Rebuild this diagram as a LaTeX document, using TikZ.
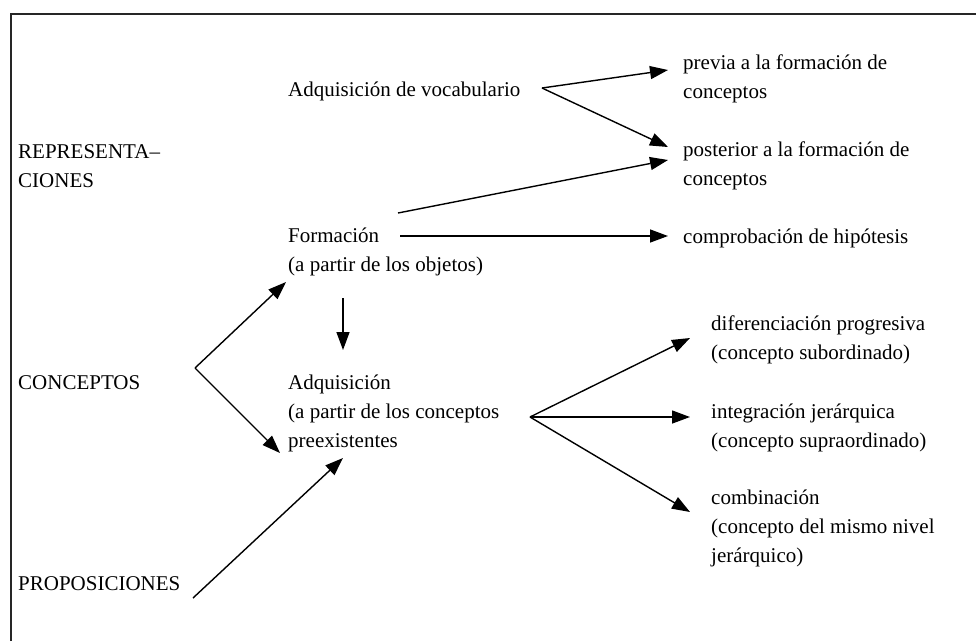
\documentclass[tikz,border=0pt]{standalone}
\usepackage{fontspec}
\setmainfont{Liberation Serif}
\usetikzlibrary{arrows.meta}
\begin{document}
\begin{tikzpicture}[x=1pt,y=-1pt,
  lbl/.style={anchor=base west, inner sep=0pt, align=left, font=\fontsize{21}{29}\selectfont},
  arr/.style={line width=1.4pt, -{Triangle[length=18pt,width=13pt]}},
  frame/.style={line width=1.6pt, black!85}
]
\useasboundingbox (0,0) rectangle (976,641);
\fill[white] (0,0) rectangle (976,641);
\draw[frame] (11,641) -- (11,14) -- (976,14);

% left column (base = baseline of last line)
\node[lbl] (rep) at (18,187) {REPRESENTA–\\CIONES};
\node[lbl] (con) at (18,389) {CONCEPTOS};
\node[lbl] (pro) at (18,590) {PROPOSICIONES};

% middle column
\node[lbl] (voc) at (288,96) {Adquisición de vocabulario};
\node[lbl] (for) at (288,271) {Formación\\(a partir de los objetos)};
\node[lbl] (adq) at (288,447) {Adquisición\\(a partir de los conceptos\\preexistentes};

% right column
\node[lbl] (pre) at (683,98) {previa a la formación de\\conceptos};
\node[lbl] (pos) at (683,185) {posterior a la formación de\\conceptos};
\node[lbl] (com) at (683,243) {comprobación de hipótesis};
\node[lbl] (dif) at (711,359) {diferenciación progresiva\\(concepto subordinado)};
\node[lbl] (int) at (711,447) {integración jerárquica\\(concepto supraordinado)};
\node[lbl] (cmb) at (711,562) {combinación\\(concepto del mismo nivel\\jerárquico)};

% connector points
\coordinate (vF) at (542,88);
\coordinate (tPre) at (668,70);
\coordinate (tPos1) at (668,147);
\coordinate (fA) at (398,213);
\coordinate (tPos2) at (668,160);
\coordinate (fB) at (400,236);
\coordinate (tCom) at (668,236);
\coordinate (dS) at (343,298);
\coordinate (dE) at (343,350);
\coordinate (cF) at (195,368);
\coordinate (tFor) at (286,282);
\coordinate (tAdq1) at (280,453);
\coordinate (pS) at (193,598);
\coordinate (tAdq2) at (343,458);
\coordinate (aF) at (530,417);
\coordinate (tDif) at (690,338);
\coordinate (tInt) at (690,417);
\coordinate (tCmb) at (690,512);

\draw[arr] (vF) -- (tPre);
\draw[arr] (vF) -- (tPos1);
\draw[arr] (fA) -- (tPos2);
\draw[arr] (fB) -- (tCom);
\draw[arr] (dS) -- (dE);
\draw[arr] (cF) -- (tFor);
\draw[arr] (cF) -- (tAdq1);
\draw[arr] (pS) -- (tAdq2);
\draw[arr] (aF) -- (tDif);
\draw[arr] (aF) -- (tInt);
\draw[arr] (aF) -- (tCmb);
\end{tikzpicture}
\end{document}
